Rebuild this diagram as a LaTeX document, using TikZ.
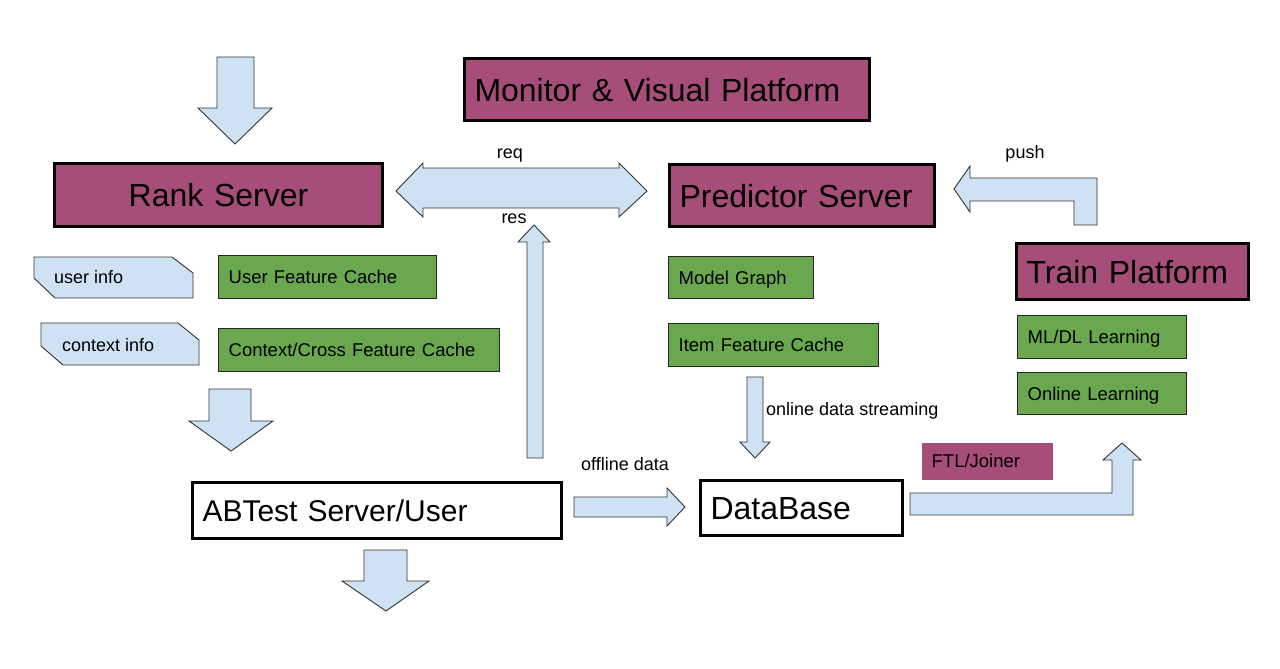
\documentclass[tikz,border=0pt]{standalone}
\usepackage{fontspec}
\setmainfont{Liberation Sans}
\usetikzlibrary{positioning}

\definecolor{plum}{HTML}{A64D79}
\definecolor{leaf}{HTML}{6AA84F}
\definecolor{sky}{HTML}{CFE2F3}

\newcommand\hugetxt{\fontsize{32}{36}\selectfont}
\newcommand\boxtxt{\fontsize{18.5}{22}\selectfont}
\newcommand\lbltxt{\fontsize{18}{22}\selectfont}

\begin{document}
\begin{tikzpicture}[x=1pt, y=-1pt]
            \tikzstyle{mbox}=[draw=black, line width=3pt, fill=plum, anchor=north west, inner xsep=10pt, inner ysep=0pt, align=left, font=\hugetxt, text height=23pt, text depth=0pt]
            \tikzstyle{wbox}=[mbox, fill=white]
            \tikzstyle{gbox}=[draw=black!85, line width=1.3pt, fill=leaf, anchor=north west, inner xsep=10pt, inner ysep=0pt, align=left, font=\boxtxt, text height=13.2pt, text depth=0pt]
            \tikzstyle{lbl}=[font=\lbltxt, inner sep=0pt]
            \tikzstyle{barrow}=[draw=black!80, line width=0.9pt, fill=sky, line join=miter]

            \useasboundingbox (0,0) rectangle (1280,669);

            \node[mbox, text width=385pt, minimum height=62pt] (monitor) at (463,57) {Monitor \& Visual Platform};
            \node[mbox, text width=308pt, minimum height=63pt, align=center] (rank) at (53,162) {Rank Server};
            \node[mbox, text width=245pt, minimum height=62pt] (predictor) at (668,163) {Predictor Server};
            \node[mbox, text width=212pt, minimum height=56pt] (train) at (1015,242) {Train Platform};
            \node[wbox, text width=349pt, minimum height=56pt, font=\fontsize{30}{34}\selectfont, text height=21.5pt] (abtest) at (191,481) {ABTest Server/User};
            \node[wbox, text width=182pt, minimum height=55pt] (database) at (699,479) {DataBase};

            \node[gbox, text width=198pt, minimum height=43pt] (userfc) at (218,255) {User Feature Cache};
            \node[gbox, text width=261pt, minimum height=43pt] (crossfc) at (218,328) {Context/Cross Feature Cache};
            \node[gbox, text width=125pt, minimum height=42pt] (graph) at (668,256) {Model Graph};
            \node[gbox, text width=190pt, minimum height=43pt] (itemfc) at (668,323) {Item Feature Cache};
            \node[gbox, text width=149pt, minimum height=43pt] (mldl) at (1017,315) {ML/DL Learning};
            \node[gbox, text width=149pt, minimum height=42pt] (online) at (1017,372) {Online Learning};
            \node[gbox, draw=none, fill=plum, text width=111pt, minimum height=37pt] (joiner) at (921,442) {FTL/Joiner};

            % info tags
            \draw[barrow] (34,257) -- (172,257) -- (193,273) -- (193,298) -- (55,298) -- (34,278) -- cycle;
            \node[lbl, anchor=west] (userinfo) at (54,277) {user info};
            \draw[barrow] (41,323) -- (178,323) -- (199,340) -- (199,365) -- (63,365) -- (41,346) -- cycle;
            \node[lbl, anchor=west] (ctxinfo) at (62,345) {context info};

            % block arrows
            \draw[barrow] (217,57) -- (254,57) -- (254,108) -- (272,108) -- (235,144) -- (198,108) -- (217,108) -- cycle;
            \draw[barrow] (396,191) -- (423,163) -- (423,168) -- (619,168) -- (619,163) -- (647,191) -- (619,217) -- (619,208) -- (423,208) -- (423,217) -- cycle;
            \draw[barrow] (527,458) -- (527,242) -- (518,242) -- (534,225) -- (550,242) -- (543,242) -- (543,458) -- cycle;
            \draw[barrow] (209,389) -- (251,389) -- (251,421) -- (273,421) -- (231,451) -- (189,421) -- (209,421) -- cycle;
            \draw[barrow] (364,550) -- (407,550) -- (407,581) -- (429,581) -- (386,611) -- (342,581) -- (364,581) -- cycle;
            \draw[barrow] (574,497) -- (667,497) -- (667,488) -- (685,507) -- (667,526) -- (667,517) -- (574,517) -- cycle;
            \draw[barrow] (747,377) -- (763,377) -- (763,442) -- (770,442) -- (755,458) -- (740,442) -- (747,442) -- cycle;
            \draw[barrow] (1097,178) -- (1097,225) -- (1074,225) -- (1074,201) -- (970,201) -- (970,212) -- (954,189) -- (970,166) -- (970,178) -- cycle;
            \draw[barrow] (910,493) -- (1112,493) -- (1112,460) -- (1103,460) -- (1122,443) -- (1141,460) -- (1133,460) -- (1133,515) -- (910,515) -- cycle;

            \node[lbl] (req) at (510,156) {req};
            \node[lbl] (res) at (514,219) {res};
            \node[lbl] (push) at (1025,154) {push};
            \node[lbl] (offline) at (625,464) {offline data};
            \node[lbl, anchor=west] (streaming) at (766,411) {online data streaming};

          \end{tikzpicture}
\end{document}
